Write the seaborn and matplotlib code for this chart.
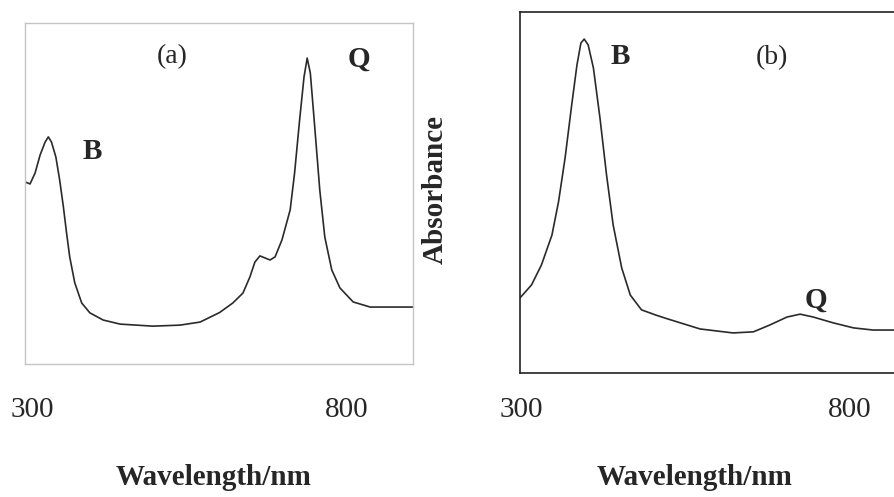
import pandas as pd
import numpy as np
import matplotlib
matplotlib.use('Agg')
import matplotlib.pyplot as plt
import seaborn as sns

sns.set_style('white')
plt.rcParams['font.family'] = ['Liberation Serif', 'DejaVu Serif']

# spectrum (a)
wl_a = [289, 297, 305, 313, 321, 326, 331, 338, 344, 350, 355, 360, 368, 379, 392, 413,
        440, 492, 535, 567, 598, 619, 635, 646, 654, 662, 678, 686, 697, 710, 717, 725,
        732, 737, 742, 749, 757, 765, 776, 789, 810, 837, 863, 905]
abs_a = [0.534, 0.528, 0.560, 0.613, 0.651, 0.666, 0.651, 0.607, 0.540, 0.460, 0.384,
         0.314, 0.238, 0.179, 0.150, 0.129, 0.117, 0.111, 0.114, 0.123, 0.151, 0.179,
         0.208, 0.255, 0.299, 0.317, 0.305, 0.314, 0.364, 0.452, 0.560, 0.716, 0.842,
         0.897, 0.853, 0.695, 0.510, 0.372, 0.276, 0.223, 0.182, 0.167, 0.167, 0.167]

# spectrum (b)
wl_b = [298.5, 316, 331, 347, 357, 367, 377, 385, 391, 396, 402, 410, 420, 430, 440,
        453, 466, 483, 504, 519, 572, 622, 653, 678, 704, 724, 744, 774, 805, 835, 867, 900]
abs_b = [0.208, 0.244, 0.299, 0.382, 0.474, 0.596, 0.742, 0.853, 0.914, 0.925, 0.909,
         0.845, 0.706, 0.548, 0.410, 0.291, 0.216, 0.175, 0.161, 0.152, 0.122, 0.111,
         0.114, 0.133, 0.155, 0.163, 0.155, 0.139, 0.125, 0.119, 0.119, 0.119]

ticks = [300, 800]

df_a = pd.DataFrame({'wl': wl_a, 'A': abs_a})
df_b = pd.DataFrame({'wl': wl_b, 'A': abs_b})

W, H = 894, 497
fig = plt.figure(figsize=(W / 100, H / 100), dpi=100)

ax1 = fig.add_axes([25 / W, (H - 364) / H, 388 / W, 341 / H])
ax2 = fig.add_axes([520 / W, (H - 373) / H, 396 / W, 361 / H])

line_col = '#2a2a2a'
sns.lineplot(data=df_a, x='wl', y='A', ax=ax1, color=line_col, linewidth=1.2, sort=False)
sns.lineplot(data=df_b, x='wl', y='A', ax=ax2, color=line_col, linewidth=1.2, sort=False)

ax1.set_xlim(289, 905)
ax2.set_xlim(298.5, 900)
for ax in (ax1, ax2):
    ax.set_ylim(0, 1)
    ax.set_xticks(ticks)
    ax.set_xticklabels([str(t) for t in ticks], fontsize=21)
    ax.set_yticks([])
    ax.tick_params(axis='x', length=0)
    ax.set_ylabel('')

ax1.tick_params(axis='x', pad=24)
ax2.tick_params(axis='x', pad=17)

for s in ax1.spines.values():
    s.set_color('#c4c4c4')
    s.set_linewidth(1.0)
for s in ax2.spines.values():
    s.set_color('#222222')
    s.set_linewidth(1.2)

ax1.set_xlabel('Wavelength/nm', fontsize=21, fontweight='bold')
ax1.xaxis.set_label_coords(0.487, -0.293)
ax2.set_xlabel('Wavelength/nm', fontsize=21, fontweight='bold')
ax2.xaxis.set_label_coords(0.442, -0.252)
ax2.set_ylabel('Absorbance', fontsize=21, fontweight='bold')
ax2.yaxis.set_label_coords(-0.180, 0.507)

ax1.text(0.379, 0.900, '(a)', transform=ax1.transAxes, fontsize=20, ha='center', va='center')
ax1.text(0.861, 0.894, 'Q', transform=ax1.transAxes, fontsize=21, fontweight='bold', ha='center', va='center')
ax1.text(0.173, 0.622, 'B', transform=ax1.transAxes, fontsize=21, fontweight='bold', ha='center', va='center')
ax2.text(0.253, 0.878, 'B', transform=ax2.transAxes, fontsize=21, fontweight='bold', ha='center', va='center')
ax2.text(0.636, 0.873, '(b)', transform=ax2.transAxes, fontsize=20, ha='center', va='center')
ax2.text(0.747, 0.202, 'Q', transform=ax2.transAxes, fontsize=21, fontweight='bold', ha='center', va='center')

fig.savefig('out.png', dpi=100)
